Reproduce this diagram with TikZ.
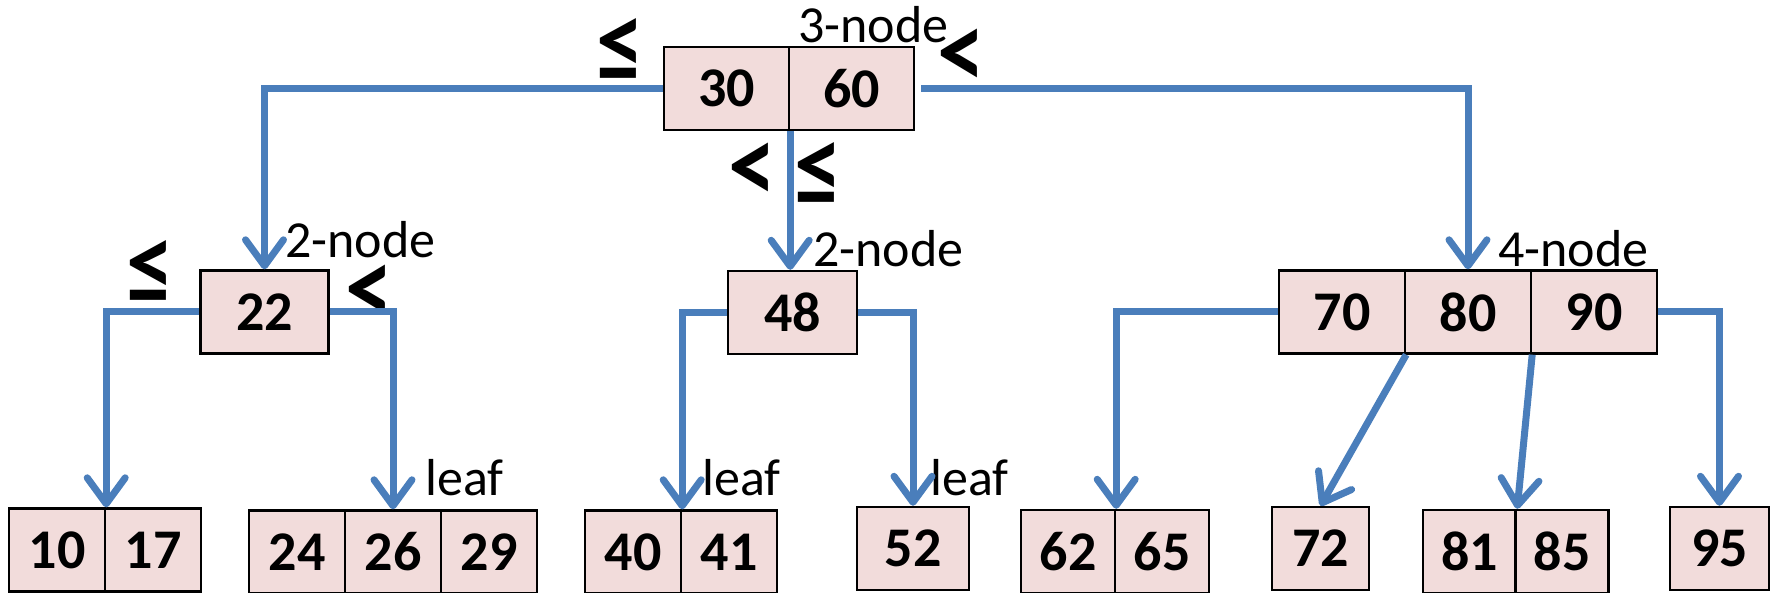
\documentclass[tikz,border=0pt]{standalone}
\usepackage{fontspec}
\setmainfont{Carlito}
\usetikzlibrary{arrows.meta}
\definecolor{edgeblue}{RGB}{74,126,187}
\definecolor{keyfill}{RGB}{242,220,219}

\begin{document}
\begin{tikzpicture}[x=0.5pt, y=-0.5pt,
        key/.style={
        draw=black, line width=1.2pt,
        fill=keyfill, inner sep=0pt,
        minimum width=#1*0.5pt, minimum height=41.5pt,
        font=\fontsize{28}{30}\selectfont\bfseries},
        key/.default=96,
        link/.style={
        draw=edgeblue, line width=3.5pt,
        -{Straight Barb[length=13pt,width=19pt,round]}},
        tag/.style={anchor=base west, inner sep=0pt,
        font=\fontsize{26}{30}\selectfont},
        rel/.style={inner sep=0pt, yscale=1.15,
        font=\fontsize{48}{50}\selectfont\bfseries},
        ]

        \useasboundingbox (0,0) rectangle (1773,593);

        \node (r30) [key=125] at (726.5,88.5) {30};
        \node (r60) [key=125] at (851.5,88.5) {60};

        \node (n22) [key=128] at (264.5,312) {22};
        \node (n48) [key=129] at (792.5,312.5) {48};
        \node (n70) [key=126] at (1342,312) {70};
        \node (n80) [key=126] at (1468,312) {80};
        \node (n90) [key=126] at (1594,312) {90};

        \node (l10) [key] at (57,550) {10};
        \node (l17) [key] at (153,550) {17};
        \node (l24) [key] at (297,552) {24};
        \node (l26) [key] at (393,552) {26};
        \node (l29) [key] at (489,552) {29};
        \node (l40) [key] at (633,552) {40};
        \node (l41) [key] at (729,552) {41};
        \node (l52) [key=112] at (913,548.5) {52};
        \node (l62) [key=94] at (1068,551.5) {62};
        \node (l65) [key=94] at (1162,551.5) {65};
        \node (l72) [key=97] at (1320.5,548.5) {72};
        \node (l81) [key=93] at (1469.5,551.5) {81};
        \node (l85) [key=93] at (1562,551.5) {85};
        \node (l95) [key=99] at (1719.5,548.5) {95};

        \node (t3) [tag] at (798,43) {3-node};
        \node (t2a) [tag] at (285,258) {2-node};
        \node (t2b) [tag] at (813,267) {2-node};
        \node (t4) [tag] at (1498,267) {4-node};
        \node (f26) [tag] at (425,495) {leaf};
        \node (f40) [tag] at (702,495) {leaf};
        \node (f52) [tag] at (930,495) {leaf};

        \node (le1) [rel] at (620,51) {≤};
        \node (lt1) [rel] at (961,59) {<};
        \node (lt2) [rel] at (752,173) {<};
        \node (le2) [rel] at (818,175) {≤};
        \node (le3) [rel] at (150,273) {≤};
        \node (lt3) [rel] at (369,295) {<};

        \draw[link] (r30.west) -| (n22.north);
        \draw[link] (r30.south east) -- (r30.south east |- n48.north);
        \draw[link, shorten <=3pt] (r60.east) -| (n80.north);

        \draw[link] (n22.west) -| (l10.north east);
        \draw[link] (n22.east) -| (l26.north);
        \draw[link] (n48.west) -| (l40.north east);
        \draw[link] (n48.east) -| (l52.north);

        \draw[link] (n70.west) -| (l62.north east);
        \draw[link] (n70.south east) -- (l72.north);
        \draw[link] (n80.south east) -- (l81.north east);
        \draw[link] (n90.east) -| (l95.north);
\end{tikzpicture}
\end{document}
